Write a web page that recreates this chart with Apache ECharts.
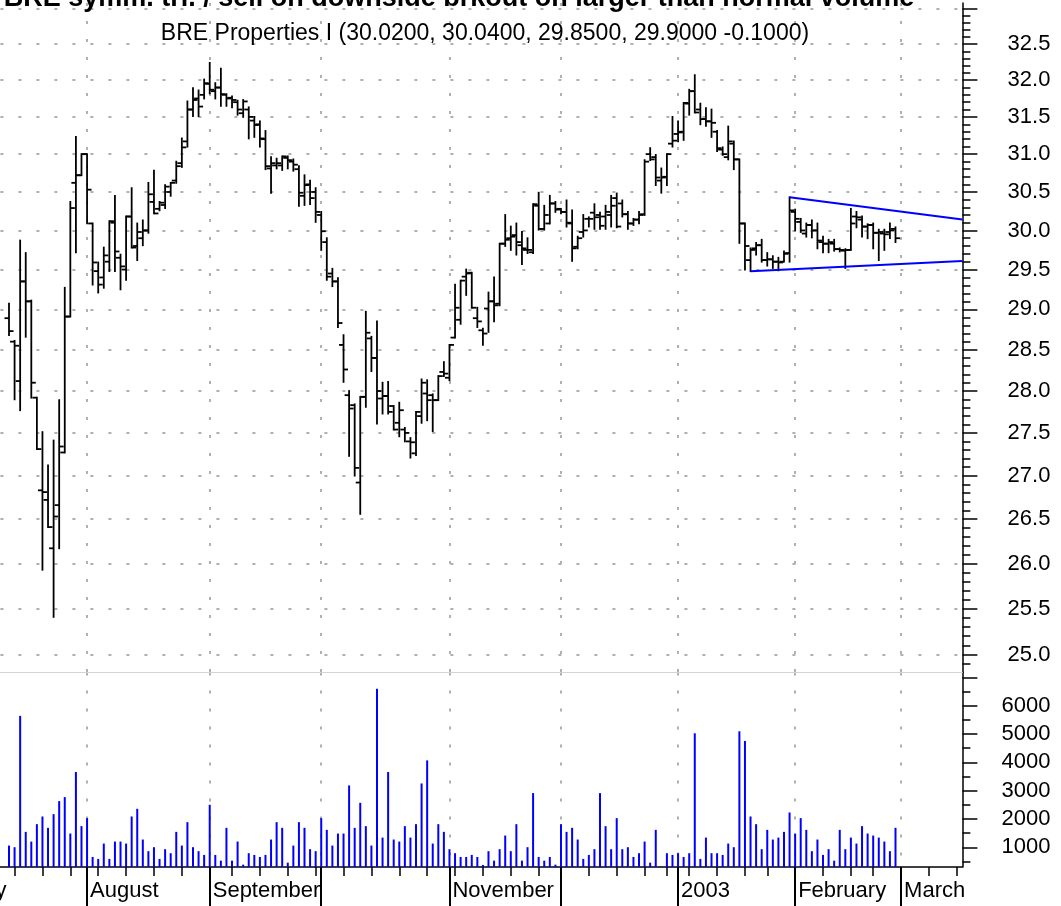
<!DOCTYPE html>
<html>
<head>
<meta charset="utf-8">
<title>BRE Properties</title>
<script src="https://cdn.jsdelivr.net/npm/echarts@6/dist/echarts.min.js"></script>
<style>
  html, body { margin: 0; padding: 0; background: #fff; }
  #myChart { width: 1061px; height: 906px; }
</style>
</head>
<body>
<div id="myChart"></div>
<script>
const titleText = "BRE symm. tri. / sell on downside brkout on larger than normal volume";
const subTitleText = "BRE Properties I (30.0200, 30.0400, 29.8500, 29.9000 -0.1000)";

// trading calendar
const axisStart = "2002-07-01";
const axisEnd = "2003-03-18";
const firstBarDate = "2002-07-12";
const holidays = ["2002-07-04", "2002-09-02", "2002-11-28", "2002-12-25", "2003-01-01", "2003-01-20", "2003-02-17"];
const monthKeys = ["2002-07", "2002-08", "2002-09", "2002-10", "2002-11", "2002-12", "2003-01", "2003-02", "2003-03"];
const monthLabels = ["July", "August", "September", "", "November", "", "2003", "February", "March"];

// daily bars, 2002-07-12 .. 2003-02-28
const open = [
  28.89, 28.60, 28.12, 29.35, 29.10, 27.92, 26.83, 26.72, 26.17, 26.66,
  27.27, 28.91, 30.62, 30.72, 31.00, 30.09, 29.48, 29.40, 29.60, 30.10,
  29.65, 29.50, 30.18, 29.80, 29.90, 30.00, 30.37, 30.28, 30.33, 30.50,
  30.65, 30.88, 31.17, 31.60, 31.75, 31.80, 31.95, 31.85, 31.90, 31.80,
  31.76, 31.70, 31.55, 31.60, 31.45, 31.40, 31.20, 30.81, 30.85, 30.85,
  30.95, 30.90, 30.80, 30.45, 30.60, 30.50, 30.20, 29.85, 29.45, 29.35,
  28.56, 27.95, 27.83, 26.92, 27.93, 28.64, 28.40, 27.91, 27.94, 27.82,
  27.62, 27.54, 27.40, 27.26, 27.70, 27.97, 27.95, 27.89, 28.23, 28.16,
  28.65, 28.87, 29.41, 29.46, 28.89, 28.74, 29.01, 29.10, 29.07, 29.83,
  29.90, 29.94, 29.81, 29.75, 29.72, 30.32, 30.02, 30.09, 30.35, 30.28,
  30.24, 30.09, 29.79, 29.98, 30.15, 30.23, 30.20, 30.18, 30.20, 30.42,
  30.35, 30.21, 30.09, 30.14, 30.21, 31.00, 30.96, 30.65, 30.70, 31.14,
  31.27, 31.30, 31.68, 31.85, 31.60, 31.47, 31.44, 31.30, 31.06, 30.96,
  31.14, 30.93, 30.09, 29.62, 29.77, 29.81, 29.62, 29.63, 29.60, 29.60,
  29.71, 30.24, 30.11, 29.96, 30.07, 30.00, 29.85, 29.83, 29.83, 29.76,
  29.74, 29.75, 30.18, 30.14, 30.05, 30.07, 29.97, 29.96, 29.98, 30.02
];
const high = [
  29.07, 28.61, 29.87, 29.71, 29.11, 27.92, 27.51, 27.12, 27.41, 27.89,
  29.27, 30.37, 31.23, 31.00, 31.00, 30.09, 29.59, 29.78, 30.12, 30.45,
  29.69, 30.18, 30.55, 30.09, 30.13, 30.62, 30.78, 30.37, 30.59, 30.62,
  30.90, 31.21, 31.71, 31.89, 31.86, 32.01, 32.24, 31.96, 32.16, 31.81,
  31.78, 31.72, 31.73, 31.63, 31.50, 31.44, 31.31, 30.96, 30.94, 30.97,
  30.97, 30.93, 30.84, 30.72, 30.65, 30.55, 30.24, 29.90, 29.51, 29.39,
  28.68, 28.00, 27.84, 27.93, 28.97, 28.66, 28.85, 28.10, 28.11, 27.82,
  27.86, 27.56, 27.44, 27.75, 28.14, 28.13, 27.96, 28.18, 28.35, 28.56,
  29.31, 29.36, 29.50, 29.46, 29.02, 28.76, 29.21, 29.40, 29.83, 30.20,
  30.05, 30.09, 29.98, 29.90, 30.34, 30.49, 30.32, 30.45, 30.37, 30.28,
  30.39, 30.26, 29.92, 30.20, 30.17, 30.34, 30.23, 30.32, 30.45, 30.48,
  30.39, 30.24, 30.15, 30.24, 30.92, 31.08, 30.99, 30.81, 31.00, 31.50,
  31.44, 31.69, 31.87, 32.07, 31.68, 31.62, 31.60, 31.31, 31.09, 31.37,
  31.17, 30.93, 30.09, 29.77, 29.84, 29.88, 29.71, 29.67, 29.65, 29.73,
  30.43, 30.27, 30.15, 30.09, 30.13, 30.09, 29.92, 29.88, 29.88, 29.77,
  29.76, 30.28, 30.24, 30.18, 30.08, 30.09, 30.01, 30.01, 30.09, 30.04
];
const low = [
  28.68, 27.90, 27.77, 28.66, 27.92, 27.31, 25.93, 26.41, 25.41, 26.17,
  27.27, 28.91, 29.72, 30.72, 30.09, 29.31, 29.21, 29.27, 29.48, 29.48,
  29.25, 29.37, 29.78, 29.62, 29.81, 29.97, 30.22, 30.26, 30.29, 30.45,
  30.62, 30.83, 31.10, 31.51, 31.51, 31.75, 31.82, 31.75, 31.65, 31.65,
  31.63, 31.53, 31.50, 31.21, 31.23, 31.10, 30.80, 30.49, 30.81, 30.79,
  30.81, 30.78, 30.32, 30.33, 30.34, 30.11, 29.75, 29.37, 29.29, 28.78,
  28.11, 27.23, 27.00, 26.56, 27.81, 28.24, 27.61, 27.73, 27.73, 27.54,
  27.46, 27.40, 27.21, 27.24, 27.62, 27.65, 27.52, 27.89, 28.18, 28.13,
  28.65, 28.82, 29.18, 29.02, 28.78, 28.56, 28.72, 28.85, 29.05, 29.80,
  29.75, 29.69, 29.57, 29.71, 29.71, 30.01, 30.01, 30.09, 30.24, 30.22,
  30.05, 29.61, 29.77, 29.92, 30.05, 30.02, 30.02, 30.02, 30.05, 30.04,
  30.18, 30.02, 30.07, 30.09, 30.20, 30.92, 30.59, 30.49, 30.59, 31.10,
  31.17, 31.19, 31.53, 31.56, 31.40, 31.38, 31.23, 31.04, 30.99, 30.93,
  30.80, 29.84, 29.50, 29.48, 29.69, 29.60, 29.55, 29.52, 29.49, 29.60,
  29.60, 30.00, 29.98, 29.92, 29.91, 29.77, 29.72, 29.72, 29.74, 29.73,
  29.52, 29.75, 30.04, 29.92, 29.90, 29.77, 29.62, 29.75, 29.90, 29.85
];
const close = [
  28.73, 28.55, 29.35, 29.10, 28.10, 27.31, 26.81, 26.41, 26.53, 27.34,
  28.91, 30.29, 30.72, 31.00, 30.53, 29.59, 29.31, 29.68, 30.12, 29.73,
  29.54, 30.18, 29.78, 29.98, 30.00, 30.47, 30.22, 30.36, 30.57, 30.62,
  30.84, 31.09, 31.60, 31.73, 31.64, 31.96, 31.87, 31.90, 31.81, 31.75,
  31.73, 31.60, 31.71, 31.50, 31.39, 31.21, 30.84, 30.88, 30.88, 30.97,
  30.92, 30.86, 30.49, 30.59, 30.42, 30.24, 29.99, 29.41, 29.35, 28.83,
  28.26, 27.79, 27.09, 27.93, 28.71, 28.40, 28.00, 27.94, 27.75, 27.54,
  27.77, 27.50, 27.39, 27.75, 28.10, 27.89, 27.89, 28.18, 28.21, 28.56,
  29.02, 29.36, 29.45, 29.02, 28.85, 28.70, 29.10, 29.05, 29.83, 29.88,
  29.92, 29.85, 29.77, 29.75, 30.34, 30.02, 30.20, 30.35, 30.27, 30.24,
  30.10, 29.77, 29.90, 30.00, 30.15, 30.17, 30.06, 30.24, 30.32, 30.05,
  30.21, 30.09, 30.14, 30.20, 30.90, 30.93, 30.69, 30.69, 31.00, 31.18,
  31.29, 31.69, 31.85, 31.56, 31.47, 31.44, 31.42, 31.08, 31.00, 31.17,
  30.93, 30.09, 29.80, 29.75, 29.81, 29.62, 29.63, 29.60, 29.59, 29.70,
  30.26, 30.15, 30.00, 30.07, 30.00, 29.87, 29.83, 29.85, 29.76, 29.75,
  29.75, 30.09, 30.17, 30.05, 30.07, 29.97, 29.98, 29.95, 30.00, 29.90
];
const volume = [
  1059, 1002, 5637, 1543, 1201, 1815, 2086, 1686, 2169, 2630,
  2771, 1484, 3657, 1745, 2028, 658, 588, 1130, 588, 1201,
  1201, 1130, 2086, 2357, 1272, 861, 1002, 588, 932, 790,
  1543, 1059, 1886, 1002, 861, 729, 2499, 729, 527, 1686,
  527, 1201, 386, 790, 729, 658, 729, 1272, 1886, 1686,
  457, 1059, 1886, 1686, 932, 861, 2028, 1614, 1059, 1484,
  1484, 3182, 1686, 2569, 1745, 1059, 6593, 1341, 3657, 1272,
  1201, 1745, 1341, 1815, 3252, 4066, 1130, 1815, 1543, 932,
  790, 658, 658, 729, 658, 375, 861, 527, 932, 1413,
  861, 1815, 527, 1002, 2912, 658, 527, 658, 386, 1815,
  1543, 1686, 1272, 588, 729, 932, 2912, 1745, 932, 2028,
  932, 1002, 658, 790, 1201, 457, 1614, 316, 790, 729,
  790, 658, 790, 5022, 588, 1341, 790, 790, 729, 1130,
  1002, 5093, 4752, 2086, 1815, 932, 1614, 1272, 1341, 1543,
  2227, 1484, 2028, 1614, 861, 1272, 729, 932, 527, 1614,
  932, 1341, 1130, 1745, 1484, 1413, 1341, 1201, 861, 1686
];

// symmetrical triangle lines
const upperTrend = [["2003-01-31", 30.43], ["2003-03-18", 30.14]];
const lowerTrend = [["2003-01-22", 29.48], ["2003-03-18", 29.61]];

// axis ticks / labels
const priceMin = 24.81, priceMax = 33.08;
const priceTicks = [25.0, 25.5, 26.0, 26.5, 27.0, 27.5, 28.0, 28.5, 29.0, 29.5, 30.0, 30.5, 31.0, 31.5, 32.0, 32.5, 33.0];
const priceLabels = [25.0, 25.5, 26.0, 26.5, 27.0, 27.5, 28.0, 28.5, 29.0, 29.5, 30.0, 30.5, 31.0, 31.5, 32.0, 32.5];
const volMin = 303, volMax = 7168;
const volTicks = [1000, 2000, 3000, 4000, 5000, 6000, 7000];
const volLabels = [1000, 2000, 3000, 4000, 5000, 6000];
const volMinorTicks = [500, 1500, 2500, 3500, 4500, 5500, 6500];

// build trading days
function pad(n) { return n < 10 ? "0" + n : "" + n; }
const days = [];
const dayOfWeek = [];
{
  const a = axisStart.split("-").map(Number), b = axisEnd.split("-").map(Number);
  let t = Date.UTC(a[0], a[1] - 1, a[2]);
  const end = Date.UTC(b[0], b[1] - 1, b[2]);
  while (t <= end) {
    const d = new Date(t);
    const s = d.getUTCFullYear() + "-" + pad(d.getUTCMonth() + 1) + "-" + pad(d.getUTCDate());
    const w = d.getUTCDay();
    if (w !== 0 && w !== 6 && holidays.indexOf(s) < 0) {
      days.push(s);
      dayOfWeek.push(w);
    }
    t += 86400000;
  }
}
const isMonthStart = days.map((d, i) => i === 0 || d.slice(0, 7) !== days[i - 1].slice(0, 7));
const isWeekStart = days.map((d, i) => i === 0 || dayOfWeek[i] <= dayOfWeek[i - 1]);
const offset = days.indexOf(firstBarDate);

const lg = Math.log10;
// 0.1 minor ticks on the price scale
const priceMinor = [];
for (let k = 249; k <= 330; k++) {
  if (k % 5 !== 0) priceMinor.push(k / 10);
}

const ohlcData = open.map((o, i) => [i + offset, lg(o), lg(high[i]), lg(low[i]), lg(close[i])]);
const volData = volume.map((v, i) => [i + offset, v]);
const trendData = (arr) => arr.map((p) => [days.indexOf(p[0]), lg(p[1])]);

function renderOHLC(params, api) {
  const x = api.value(0);
  const pO = api.coord([x, api.value(1)]);
  const pH = api.coord([x, api.value(2)]);
  const pL = api.coord([x, api.value(3)]);
  const pC = api.coord([x, api.value(4)]);
  const t = 4.5;
  const style = { stroke: "#000", lineWidth: 1.8 };
  return {
    type: "group",
    children: [
      { type: "line", shape: { x1: pH[0], y1: pH[1] - 0.9, x2: pL[0], y2: pL[1] + 0.9 }, style: style },
      { type: "line", shape: { x1: pO[0] - t, y1: pO[1], x2: pO[0], y2: pO[1] }, style: style },
      { type: "line", shape: { x1: pC[0], y1: pC[1], x2: pC[0] + t, y2: pC[1] }, style: style },
    ],
  };
}

const dotted = { color: "#b0b0b0", width: 2, type: [3, 15] };
const font = "Liberation Sans";

const chart = echarts.init(document.getElementById("myChart"));
const option = {
  animation: false,
  backgroundColor: "#fff",
  textStyle: { fontFamily: font },
  graphic: [
    {
      type: "text", x: 459, y: -1.5, z: 10,
      style: { text: titleText, font: "bold 27px '" + font + "'", fill: "#000", align: "center", verticalAlign: "middle" },
    },
    {
      type: "text", x: 485, y: 34, z: 10,
      style: { text: subTitleText, font: "23px '" + font + "'", fill: "#000", align: "center", verticalAlign: "middle" },
    },
  ],
  grid: [
    { left: -35.6, right: 98.6, top: 3, height: 669.5, outerBoundsMode: "none" },
    { left: -35.6, right: 98.6, top: 672.5, height: 194.5, outerBoundsMode: "none" },
  ],
  xAxis: [
    {
      gridIndex: 0, type: "category", data: days, boundaryGap: false,
      axisLine: { show: true, onZero: false, lineStyle: { color: "#d4d4d4", width: 1 } },
      axisTick: { show: false }, axisLabel: { show: false },
      splitLine: { show: true, interval: (i) => isMonthStart[i], lineStyle: dotted },
    },
    {
      gridIndex: 1, type: "category", data: days, boundaryGap: false, position: "bottom",
      axisLine: { show: true, onZero: false, lineStyle: { color: "#000", width: 1.5 } },
      axisTick: { show: true, interval: (i) => isWeekStart[i], length: 9, lineStyle: { color: "#000", width: 1.5 } },
      axisLabel: { show: false },
      splitLine: { show: true, interval: (i) => isMonthStart[i], lineStyle: dotted },
    },
    {
      gridIndex: 1, type: "category", data: days, boundaryGap: false, position: "bottom",
      axisLine: { show: false, onZero: false },
      axisTick: { show: true, interval: (i) => isMonthStart[i], length: 42, lineStyle: { color: "#000", width: 2 } },
      axisLabel: {
        show: true, interval: (i) => isMonthStart[i], align: "left", margin: 13, padding: [0, 0, 0, 3],
        fontSize: 22, color: "#000", fontFamily: font,
        formatter: (v) => monthLabels[monthKeys.indexOf(v.slice(0, 7))],
      },
      splitLine: { show: false },
    },
  ],
  yAxis: [
    {
      gridIndex: 0, type: "value", position: "right", min: lg(priceMin), max: lg(priceMax),
      axisLine: { show: true, onZero: false, lineStyle: { color: "#000", width: 1.5 } },
      axisTick: { show: true, customValues: priceTicks.map(lg), length: 15, lineStyle: { color: "#000", width: 1.5 } },
      axisLabel: {
        show: true, customValues: priceLabels.map(lg), align: "right", margin: 88,
        fontSize: 22, color: "#000", fontFamily: font,
        formatter: (v) => Math.pow(10, v).toFixed(1),
      },
      splitLine: { show: true, lineStyle: dotted },
    },
    {
      gridIndex: 0, type: "value", position: "right", min: lg(priceMin), max: lg(priceMax),
      axisLine: { show: false },
      axisTick: { show: true, customValues: priceMinor.map(lg), length: 8, lineStyle: { color: "#000", width: 1.5 } },
      axisLabel: { show: false }, splitLine: { show: false },
    },
    {
      gridIndex: 1, type: "value", position: "right", min: volMin, max: volMax,
      axisLine: { show: true, onZero: false, lineStyle: { color: "#000", width: 1.5 } },
      axisTick: { show: true, customValues: volTicks, length: 15, lineStyle: { color: "#000", width: 1.5 } },
      axisLabel: {
        show: true, customValues: volLabels, align: "right", margin: 88,
        fontSize: 22, color: "#000", fontFamily: font,
        formatter: (v) => String(v),
      },
      splitLine: { show: false },
    },
    {
      gridIndex: 1, type: "value", position: "right", min: volMin, max: volMax,
      axisLine: { show: false },
      axisTick: { show: true, customValues: volMinorTicks, length: 8, lineStyle: { color: "#000", width: 1.5 } },
      axisLabel: { show: false }, splitLine: { show: false },
    },
  ],
  series: [
    {
      name: "BRE", type: "custom", xAxisIndex: 0, yAxisIndex: 0,
      renderItem: renderOHLC, data: ohlcData,
      encode: { x: 0, y: [1, 2, 3, 4] }, z: 3,
    },
    {
      name: "upper", type: "line", xAxisIndex: 0, yAxisIndex: 0, data: trendData(upperTrend),
      symbol: "none", lineStyle: { color: "#0000ff", width: 2 }, z: 4,
    },
    {
      name: "lower", type: "line", xAxisIndex: 0, yAxisIndex: 0, data: trendData(lowerTrend),
      symbol: "none", lineStyle: { color: "#0000ff", width: 2 }, z: 4,
    },
    {
      name: "Volume", type: "bar", xAxisIndex: 1, yAxisIndex: 2, data: volData,
      barWidth: 2, itemStyle: { color: "#0000ff" },
    },
  ],
};
chart.setOption(option);
</script>
</body>
</html>
